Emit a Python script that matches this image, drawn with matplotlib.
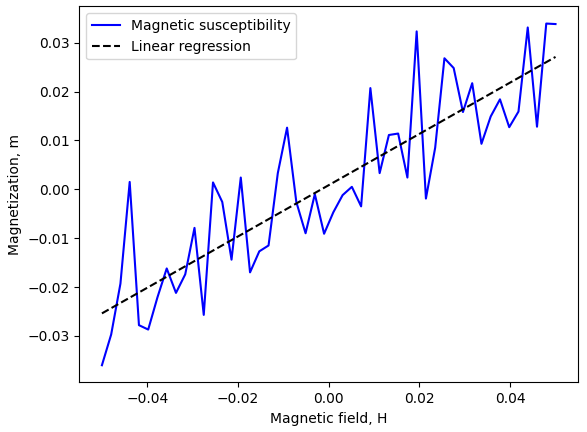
import numpy as np
import matplotlib
matplotlib.use("Agg")
import matplotlib.pyplot as plt

# Applied field, 50 evenly spaced samples
field = np.linspace(-0.05, 0.05, 50)

magnetization = [
    -0.0360, -0.0297, -0.0193, 0.0015, -0.0278, -0.0287, -0.0221, -0.0162, -0.0212, -0.0174,
    -0.0079, -0.0257, 0.0014, -0.0026, -0.0144, 0.0024, -0.0170, -0.0127, -0.0115, 0.0033,
    0.0126, -0.0026, -0.0090, -0.0010, -0.0091, -0.0047, -0.0012, 0.0005, -0.0035, 0.0207,
    0.0033, 0.0111, 0.0114, 0.0024, 0.0323, -0.0019, 0.0085, 0.0268, 0.0248, 0.0158,
    0.0217, 0.0093, 0.0149, 0.0184, 0.0127, 0.0159, 0.0331, 0.0128, 0.0339, 0.0338,
]

# Fit a straight line through the measurements
slope, intercept = np.polyfit(field, magnetization, 1)
fit = slope * field + intercept

fig, ax = plt.subplots(figsize=(5.87, 4.32), dpi=100)
ax.plot(field, magnetization, color='blue', label='Magnetic susceptibility')
ax.plot(field, fit, 'k--', label='Linear regression')
ax.set_xlabel('Magnetic field, H')
ax.set_ylabel('Magnetization, m')
ax.legend(loc='upper left')
fig.subplots_adjust(left=0.135, right=0.985, bottom=0.115, top=0.985)
fig.savefig('out.png')
